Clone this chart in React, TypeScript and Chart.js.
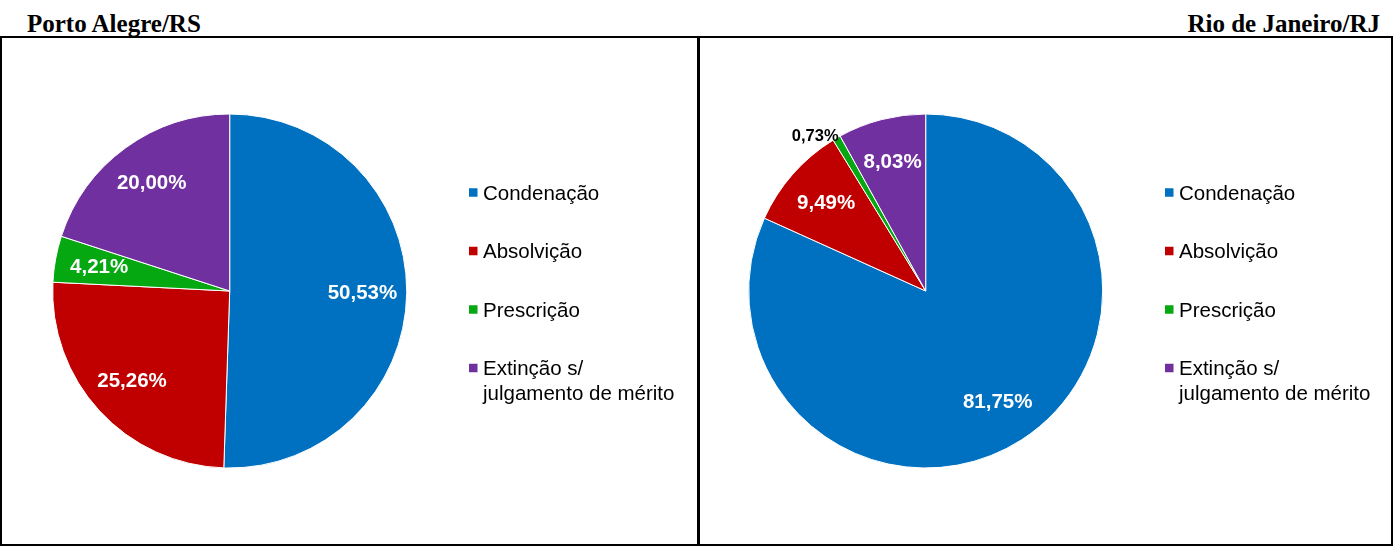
import React, { useEffect, useRef } from "react";
import { Chart, registerables } from "chart.js";

Chart.register(...registerables);

const categories = ["Condenação", "Absolvição", "Prescrição", "Extinção s/\njulgamento de mérito"];
const colors = ["#0070C0", "#C00000", "#06A812", "#7030A0"];
const portoAlegreValues = [50.53, 25.26, 4.21, 20.0];
const rioValues = [81.75, 9.49, 0.73, 8.03];
const titles = ["Porto Alegre/RS", "Rio de Janeiro/RJ"];

const RADIUS = 177;

const labelPlugin = {
  id: "sliceLabels",
  afterDatasetsDraw(chart: any) {
    const ctx = chart.ctx;
    const meta = chart.getDatasetMeta(0);
    const data = chart.data.datasets[0].data as number[];
    ctx.save();
    meta.data.forEach((arc: any, i: number) => {
      const { x, y, startAngle, endAngle, outerRadius } = arc.getProps(
        ["x", "y", "startAngle", "endAngle", "outerRadius"],
        true
      );
      const mid = (startAngle + endAngle) / 2;
      const v = data[i];
      const text = v.toFixed(2).replace(".", ",") + "%";
      if (v < 2) {
        const r = outerRadius + 2;
        const px = x + Math.cos(mid) * r;
        const py = y + Math.sin(mid) * r;
        ctx.font = "bold 16.5px 'Liberation Sans', Arial, sans-serif";
        ctx.fillStyle = "#000";
        ctx.textAlign = px < x ? "right" : "left";
        ctx.textBaseline = "middle";
        ctx.fillText(text, px + (px < x ? 3 : -3), py);
      } else {
        const r = outerRadius * 0.75;
        const px = x + Math.cos(mid) * r;
        const py = y + Math.sin(mid) * r;
        ctx.font = "bold 20.5px 'Liberation Sans', Arial, sans-serif";
        ctx.fillStyle = "#fff";
        ctx.textAlign = "center";
        ctx.textBaseline = "middle";
        ctx.fillText(text, px, py);
      }
    });
    ctx.restore();
  },
};

const legendPlugin = {
  id: "sideLegend",
  afterDraw(chart: any) {
    const ctx = chart.ctx;
    const ca = chart.chartArea;
    const cx = (ca.left + ca.right) / 2;
    const cy = (ca.top + ca.bottom) / 2;
    const x0 = cx + 239.3;
    const labels = chart.data.labels as string[];
    const bg = chart.data.datasets[0].backgroundColor as string[];
    ctx.save();
    ctx.font = "20.5px 'Liberation Sans', Arial, sans-serif";
    ctx.textAlign = "left";
    ctx.textBaseline = "alphabetic";
    labels.forEach((lab, i) => {
      const yc = cy - 98.5 + i * 58.5;
      ctx.fillStyle = bg[i];
      ctx.fillRect(x0, yc - 4.25, 8.5, 8.5);
      ctx.fillStyle = "#000";
      const lines = lab.split("\n");
      lines.forEach((ln, j) => {
        ctx.fillText(ln, x0 + 14, yc + 7.3 + j * 24.5);
      });
    });
    ctx.restore();
  },
};

function PiePanel(props: { values: number[]; left: number; width: number; cx: number }) {
  const ref = useRef<HTMLCanvasElement>(null);
  useEffect(() => {
    const canvas = ref.current!;
    const H = 506;
    const cy = 253;
    const chart = new Chart(canvas, {
      type: "pie",
      data: {
        labels: categories,
        datasets: [
          {
            data: props.values,
            backgroundColor: colors,
            borderColor: "#ffffff",
            borderWidth: 1,
          },
        ],
      },
      options: {
        animation: false,
        responsive: false,
        maintainAspectRatio: false,
        radius: RADIUS,
        layout: {
          padding: {
            left: props.cx - RADIUS,
            right: props.width - (props.cx + RADIUS),
            top: cy - RADIUS,
            bottom: H - (cy + RADIUS),
          },
        },
        plugins: {
          legend: { display: false },
          tooltip: { enabled: false },
        },
      } as any,
      plugins: [labelPlugin, legendPlugin],
    });
    return () => chart.destroy();
  }, []);
  return (
    <canvas
      ref={ref}
      width={props.width}
      height={506}
      style={{ position: "absolute", left: props.left, top: 38, width: props.width, height: 506 }}
    />
  );
}

export default function App() {
  const titleStyle: React.CSSProperties = {
    position: "absolute",
    top: 11,
    fontFamily: "'Liberation Serif', 'Times New Roman', serif",
    fontWeight: "bold",
    fontSize: 25,
    lineHeight: "25px",
    color: "#000",
    whiteSpace: "nowrap",
  };
  return (
    <div style={{ position: "absolute", left: 0, top: 0, width: 1396, height: 546, background: "#fff" }}>
      <div style={{ ...titleStyle, left: 27 }}>{titles[0]}</div>
      <div style={{ ...titleStyle, right: 16, textAlign: "right" }}>{titles[1]}</div>
      <div
        style={{
          position: "absolute",
          left: 0,
          top: 36,
          width: 1393,
          height: 510,
          border: "2px solid #000",
          boxSizing: "border-box",
        }}
      />
      <div style={{ position: "absolute", left: 697, top: 36, width: 3, height: 510, background: "#000" }} />
      <PiePanel values={portoAlegreValues} left={2} width={695} cx={227.7} />
      <PiePanel values={rioValues} left={700} width={691} cx={225.7} />
    </div>
  );
}
